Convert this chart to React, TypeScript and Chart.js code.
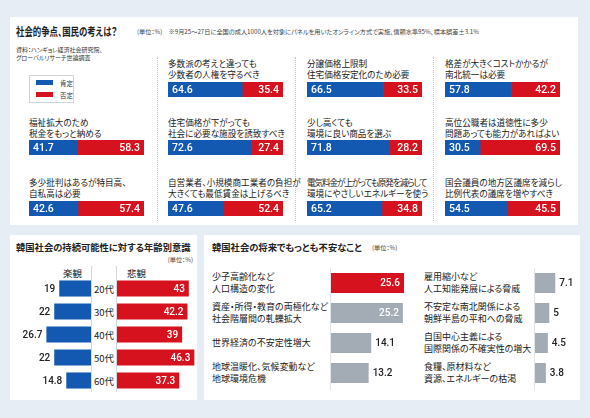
import React, { useEffect, useRef } from "react";
import { Chart, registerables } from "chart.js";
Chart.register(...registerables);

// ---------- DATA ----------
const issueLabels: string[][] = [
  ["多数派の考えと違っても", "少数者の人権を守るべき"],
  ["分譲価格上限制", "住宅価格安定化のため必要"],
  ["格差が大きくコストかかるが", "南北統一は必要"],
  ["福祉拡大のため", "税金をもっと納める"],
  ["住宅価格が下がっても", "社会に必要な施設を誘致すべき"],
  ["少し高くても", "環境に良い商品を選ぶ"],
  ["高位公職者は道徳性に多少", "問題あっても能力があればよい"],
  ["多少批判はあるが特目高、", "自私高は必要"],
  ["自営業者、小規模商工業者の負担が", "大きくても最低賃金は上げるべき"],
  ["電気料金が上がっても原発を減らして", "環境にやさしいエネルギーを使う"],
  ["国会議員の地方区議席を減らし", "比例代表の議席を増やすべき"],
];
const agreeValues = [64.6, 66.5, 57.8, 41.7, 72.6, 71.8, 30.5, 42.6, 47.6, 65.2, 54.5];
const disagreeValues = [35.4, 33.5, 42.2, 58.3, 27.4, 28.2, 69.5, 57.4, 52.4, 34.8, 45.5];
const legendNames = ["肯定", "否定"];

const ageGroups = ["20代", "30代", "40代", "50代", "60代"];
const optimisticValues = [19, 22, 26.7, 22, 14.8];
const pessimisticValues = [43, 42.2, 39, 46.3, 37.3];

const concernLabelsA: string[][] = [
  ["少子高齢化など", "人口構造の変化"],
  ["資産・所得・教育の両極化など", "社会階層間の軋轢拡大"],
  ["世界経済の不安定性増大"],
  ["地球温暖化、気候変動など", "地球環境危機"],
];
const concernValuesA = [25.6, 25.2, 14.1, 13.2];
const concernLabelsB: string[][] = [
  ["雇用縮小など", "人工知能発展による脅威"],
  ["不安定な南北関係による", "朝鮮半島の平和への脅威"],
  ["自国中心主義による", "国際関係の不確実性の増大"],
  ["食糧、原材料など", "資源、エネルギーの枯渇"],
];
const concernValuesB = [7.1, 5, 4.5, 3.8];

// ---------- STYLE ----------
const BLUE = "#1459b1";
const RED = "#d5121e";
const GRAY = "#a3acb5";
const BG = "#e7edf5";
const JP = '"Noto Sans CJK JP", "Noto Sans", sans-serif';
const NUM = 'Roboto, "Liberation Sans", sans-serif';

// layout (slots for issues: [row, col])
const issueSlots = [
  [0, 1], [0, 2], [0, 3],
  [1, 0], [1, 1], [1, 2], [1, 3],
  [2, 0], [2, 1], [2, 2], [2, 3],
];
const colX = [29, 168, 307, 445];
const rowTextY = [57.5, 116.5, 176.5];
const rowBarY = [82, 140, 201];

const valueLabelPlugin = {
  id: "valueLabels",
  afterDatasetsDraw(chart: any) {
    const ctx = chart.ctx;
    chart.data.datasets.forEach((ds: any, di: number) => {
      const meta = chart.getDatasetMeta(di);
      meta.data.forEach((el: any, i: number) => {
        const v = ds.data[i];
        if (v == null) return;
        const pos = Array.isArray(ds.labelPos) ? ds.labelPos[i] : ds.labelPos;
        const color = Array.isArray(ds.labelColor) ? ds.labelColor[i] : ds.labelColor;
        const dir = el.x >= el.base ? 1 : -1;
        let tx: number;
        let align: string;
        if (pos === "start") {
          tx = el.base + dir * 4;
          align = dir > 0 ? "left" : "right";
        } else if (pos === "end") {
          tx = el.x - dir * 4;
          align = dir > 0 ? "right" : "left";
        } else {
          tx = el.x + dir * 4;
          align = dir > 0 ? "left" : "right";
        }
        ctx.save();
        ctx.font = ds.labelFont;
        ctx.fillStyle = color;
        ctx.textAlign = align;
        ctx.textBaseline = "middle";
        ctx.fillText(String(v), tx, el.y + 0.5);
        ctx.restore();
      });
    });
  },
};

function hbar(opts: {
  labels: string[];
  datasets: any[];
  max: number;
  reverse?: boolean;
  stacked?: boolean;
  barPct: number;
}) {
  return {
    type: "bar",
    data: { labels: opts.labels, datasets: opts.datasets },
    options: {
      indexAxis: "y",
      responsive: false,
      animation: false,
      devicePixelRatio: 1,
      layout: { padding: 0 },
      plugins: { legend: { display: false }, tooltip: { enabled: false } },
      scales: {
        x: { display: false, min: 0, max: opts.max, reverse: !!opts.reverse, stacked: !!opts.stacked },
        y: { display: false, stacked: !!opts.stacked },
      },
      datasets: { bar: { barPercentage: opts.barPct, categoryPercentage: 1 } },
    },
    plugins: [valueLabelPlugin],
  };
}

function ChartBox(props: { left: number; top: number; width: number; height: number; config: () => any }) {
  const ref = useRef<HTMLCanvasElement>(null);
  useEffect(() => {
    const chart = new Chart(ref.current as HTMLCanvasElement, props.config() as any);
    return () => chart.destroy();
  }, []);
  return (
    <div style={{ position: "absolute", left: props.left, top: props.top, width: props.width, height: props.height }}>
      <canvas ref={ref} width={props.width} height={props.height} style={{ display: "block" }} />
    </div>
  );
}

function T(props: { x: number; y: number; size: number; lh?: number; bold?: boolean; color?: string; align?: string; w?: number; sx?: number; children: any }) {
  const style: any = {
    position: "absolute",
    left: props.x,
    top: props.y,
    fontSize: props.size,
    lineHeight: (props.lh ?? props.size * 1.3) + "px",
    fontWeight: props.bold ? 700 : 400,
    color: props.color ?? "#222",
    fontFamily: JP,
    whiteSpace: "nowrap",
    fontFeatureSettings: '"palt"',
  };
  if (props.w != null) {
    style.width = props.w;
    style.textAlign = props.align ?? "left";
  }
  if (props.sx) {
    style.transform = `scaleX(${props.sx})`;
    style.transformOrigin = "left center";
  }
  return <div style={style}>{props.children}</div>;
}

const Lines = (p: { lines: string[]; condense?: number }) => (
  <>
    {p.lines.map((l, i) => (
      <div key={i} style={{ letterSpacing: p.condense && l.length > p.condense ? -1.1 : 0 }}>
        {l}
      </div>
    ))}
  </>
);

export default function App() {
  useEffect(() => {
    document.body.style.margin = "0";
  }, []);

  const numFontTop = `500 10.5px ${NUM}`;
  const numFont = `500 10px ${NUM}`;

  return (
    <div style={{ position: "absolute", left: 0, top: 0, width: 590, height: 418, background: BG, overflow: "hidden", fontFamily: JP }}>
      {/* top panel */}
      <div style={{ position: "absolute", left: 10, top: 17, width: 568, height: 208, background: "#fff" }} />
      <T x={16} y={23} size={11.5} lh={17} bold sx={0.73}>社会的争点、国民の考えは？</T>
      <T x={137} y={27} size={6.2} lh={10} color="#444">
        (単位：%)　※9月25～27日に全国の成人1000人を対象にパネルを用いたオンライン方式で実施、信頼水準95%、標本誤差±3.1%
      </T>
      <T x={16} y={45.5} size={6} lh={8} color="#333">
        <Lines lines={["資料：ハンギョレ経済社会研究院、", "グローバルリサーチ世論調査"]} />
      </T>
      {/* dividers */}
      {[157, 295, 433].map((x) => (
        <div key={x} style={{ position: "absolute", left: x, top: 57, width: 0, height: 164, borderLeft: "1px dotted #c4c8cc" }} />
      ))}
      {/* legend */}
      <div style={{ position: "absolute", left: 29, top: 75, width: 43, height: 26, border: "1px solid #d0d4d8", background: "#fff" }} />
      <div style={{ position: "absolute", left: 36, top: 80, width: 17, height: 5, background: BLUE }} />
      <div style={{ position: "absolute", left: 36, top: 92, width: 17, height: 5, background: RED }} />
      <T x={60} y={78.5} size={6.5} lh={8} color="#333">{legendNames[0]}</T>
      <T x={60} y={90.5} size={6.5} lh={8} color="#333">{legendNames[1]}</T>

      {issueLabels.map((lab, i) => {
        const [r, c] = issueSlots[i];
        return (
          <T key={"l" + i} x={colX[c]} y={rowTextY[r]} size={8.6} lh={11}>
            <Lines lines={lab} condense={16} />
          </T>
        );
      })}
      {issueLabels.map((lab, i) => {
        const [r, c] = issueSlots[i];
        return (
          <ChartBox
            key={"c" + i}
            left={colX[c]}
            top={rowBarY[r]}
            width={115}
            height={15}
            config={() =>
              hbar({
                labels: [lab.join("")],
                max: 100,
                stacked: true,
                barPct: 1,
                datasets: [
                  { label: legendNames[0], data: [agreeValues[i]], backgroundColor: BLUE, labelPos: "start", labelColor: "#fff", labelFont: numFontTop },
                  { label: legendNames[1], data: [disagreeValues[i]], backgroundColor: RED, labelPos: "end", labelColor: "#fff", labelFont: numFontTop },
                ],
              })
            }
          />
        );
      })}

      {/* bottom-left panel */}
      <div style={{ position: "absolute", left: 10, top: 235, width: 187, height: 165, background: "#fff" }} />
      <T x={16} y={240} size={9.3} lh={14} bold>韓国社会の持続可能性に対する年齢別意識</T>
      <T x={133} y={255} w={60} align="right" size={6.2} lh={10} color="#444">(単位：%)</T>
      <T x={63} y={266} size={9.5} lh={14}>楽観</T>
      <T x={127} y={266} size={9.5} lh={14}>悲観</T>
      <div style={{ position: "absolute", left: 91, top: 266, width: 1, height: 126, background: "#d6d9dc" }} />
      <div style={{ position: "absolute", left: 116, top: 266, width: 1, height: 126, background: "#d6d9dc" }} />
      {ageGroups.map((a, i) => (
        <T key={a} x={89} y={282 + 23 * i} w={30} align="center" size={9.5} lh={14}>{a}</T>
      ))}
      <ChartBox
        left={14}
        top={277}
        width={77}
        height={115}
        config={() =>
          hbar({
            labels: ageGroups,
            max: 46.1,
            reverse: true,
            barPct: 0.7,
            datasets: [{ label: "楽観", data: optimisticValues, backgroundColor: BLUE, labelPos: "out", labelColor: "#222", labelFont: numFont }],
          })
        }
      />
      <ChartBox
        left={117}
        top={277}
        width={78}
        height={115}
        config={() =>
          hbar({
            labels: ageGroups,
            max: 46.7,
            barPct: 0.7,
            datasets: [{ label: "悲観", data: pessimisticValues, backgroundColor: RED, labelPos: "end", labelColor: "#fff", labelFont: numFont }],
          })
        }
      />

      {/* bottom-right panel */}
      <div style={{ position: "absolute", left: 204, top: 235, width: 376, height: 165, background: "#fff" }} />
      <T x={212} y={240} size={9.3} lh={14} bold>韓国社会の将来でもっとも不安なこと</T>
      <T x={372} y={243} size={6.2} lh={10} color="#444">(単位：%)</T>
      <div style={{ position: "absolute", left: 330, top: 268, width: 1, height: 122, background: "#e2e4e6" }} />
      <div style={{ position: "absolute", left: 534, top: 268, width: 1, height: 122, background: "#e2e4e6" }} />
      {concernLabelsA.map((lab, i) => (
        <T key={"a" + i} x={212} y={283 + 30 * i - (lab.length * 12) / 2} size={9} lh={12}>
          <Lines lines={lab} />
        </T>
      ))}
      {concernLabelsB.map((lab, i) => (
        <T key={"b" + i} x={424} y={283 + 30 * i - (lab.length * 12) / 2} size={9} lh={12}>
          <Lines lines={lab} />
        </T>
      ))}
      <ChartBox
        left={331}
        top={268}
        width={85}
        height={120}
        config={() =>
          hbar({
            labels: concernLabelsA.map((l) => l.join("")),
            max: 29.8,
            barPct: 0.667,
            datasets: [
              {
                label: "不安",
                data: concernValuesA,
                backgroundColor: [RED, GRAY, GRAY, GRAY],
                labelPos: ["end", "end", "out", "out"],
                labelColor: ["#fff", "#fff", "#222", "#222"],
                labelFont: numFont,
              },
            ],
          })
        }
      />
      <ChartBox
        left={535}
        top={268}
        width={42}
        height={120}
        config={() =>
          hbar({
            labels: concernLabelsB.map((l) => l.join("")),
            max: 14.7,
            barPct: 0.667,
            datasets: [
              { label: "不安", data: concernValuesB, backgroundColor: GRAY, labelPos: "out", labelColor: "#222", labelFont: numFont },
            ],
          })
        }
      />
    </div>
  );
}
